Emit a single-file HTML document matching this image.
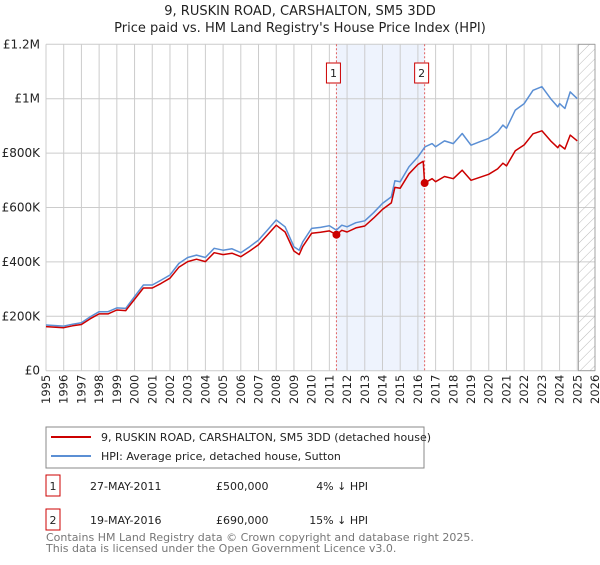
<!DOCTYPE html>
<html><head><meta charset="utf-8"><style>
body{margin:0;background:#fff;font-family:"Liberation Sans","DejaVu Sans",sans-serif;}
svg text{font-family:"DejaVu Sans","Liberation Sans",sans-serif;}
</style></head><body>
<svg id="chart" width="600" height="560" xmlns="http://www.w3.org/2000/svg">
<text x="300" y="15" text-anchor="middle" font-size="13" fill="#222">9, RUSKIN ROAD, CARSHALTON, SM5 3DD</text>
<text x="300" y="32" text-anchor="middle" font-size="13" fill="#222">Price paid vs. HM Land Registry's House Price Index (HPI)</text>
<g id="plot"></g>
<g>
<rect x="46" y="427" width="378" height="41" fill="#fff" stroke="#888"/>
<line x1="51" y1="437" x2="91" y2="437" stroke="#cc0000" stroke-width="2"/>
<text x="101" y="441" font-size="11" fill="#222">9, RUSKIN ROAD, CARSHALTON, SM5 3DD (detached house)</text>
<line x1="51" y1="456" x2="91" y2="456" stroke="#5b8fd4" stroke-width="2"/>
<text x="101" y="460" font-size="11" fill="#222">HPI: Average price, detached house, Sutton</text>
</g>
<g font-size="11" fill="#222">
<rect x="46" y="475" width="14" height="21" fill="#fff" stroke="#cc0000"/>
<text x="53" y="490" text-anchor="middle">1</text>
<text x="90" y="490">27-MAY-2011</text><text x="216" y="490">£500,000</text><text x="368" y="490" text-anchor="end">4% ↓ HPI</text>
<rect x="46" y="509" width="14" height="21" fill="#fff" stroke="#cc0000"/>
<text x="53" y="524" text-anchor="middle">2</text>
<text x="90" y="524">19-MAY-2016</text><text x="216" y="524">£690,000</text><text x="368" y="524" text-anchor="end">15% ↓ HPI</text>
</g>
<text x="46" y="541" font-size="11" fill="#777">Contains HM Land Registry data © Crown copyright and database right 2025.</text>
<text x="46" y="552" font-size="11" fill="#777">This data is licensed under the Open Government Licence v3.0.</text>
</svg>
<script>
const hpiYears=[1995,1996,1996.5,1997,1997.5,1998,1998.5,1999,1999.5,2000,2000.5,2001,2001.5,2002,2002.5,2003,2003.5,2004,2004.5,2005,2005.5,2006,2006.5,2007,2007.5,2008,2008.5,2009,2009.3,2009.5,2010,2010.5,2011,2011.4,2011.7,2012,2012.5,2013,2013.5,2014,2014.5,2014.7,2015,2015.5,2016,2016.4,2016.8,2017,2017.5,2018,2018.5,2019,2019.5,2020,2020.5,2020.8,2021,2021.5,2022,2022.5,2023,2023.5,2023.9,2024,2024.3,2024.6,2025];
const hpiValues=[168,164,171,176,198,217,217,231,229,272,315,315,333,352,394,416,425,416,450,443,448,434,456,480,517,554,529,456,443,474,523,527,533,517,535,529,544,551,581,615,639,698,695,750,786,823,835,823,845,835,872,829,842,854,878,903,891,958,982,1031,1044,1000,970,982,964,1025,1000];
const priceYears=[1995,1996,1996.5,1997,1997.5,1998,1998.5,1999,1999.5,2000,2000.5,2001,2001.5,2002,2002.5,2003,2003.5,2004,2004.5,2005,2005.5,2006,2006.5,2007,2007.5,2008,2008.5,2009,2009.3,2009.5,2010,2010.5,2011,2011.4,2011.7,2012,2012.5,2013,2013.5,2014,2014.5,2014.7,2015,2015.5,2016,2016.3,2016.38,2016.8,2017,2017.5,2018,2018.5,2019,2019.5,2020,2020.5,2020.8,2021,2021.5,2022,2022.5,2023,2023.5,2023.9,2024,2024.3,2024.6,2025];
const priceValues=[162,158,165,170,191,209,209,223,221,262,304,304,321,340,380,401,410,401,434,427,432,419,440,463,499,535,510,440,427,457,505,509,514,500,516,510,525,532,561,593,617,674,671,724,758,770,690,706,695,714,706,737,700,711,722,742,763,753,809,830,871,882,845,820,830,815,866,845];
const saleYears=[2011.4,2016.38];
const saleValues=[500,690];
const saleLabels=["1","2"];
const yTicks=[0,200,400,600,800,1000,1200];
const yTickLabels=["£0","£200K","£400K","£600K","£800K","£1M","£1.2M"];
const xStart=1995,xEnd=2026,projStart=2025.07;
const L=46,R=595,T=44.3,B=370.7;
const X=y=>L+(y-xStart)/(xEnd-xStart)*(R-L);
const Y=v=>B-v/1200*(B-T);
const NS="http://www.w3.org/2000/svg";
const g=document.getElementById('plot');
function mk(t,a,p){const e=document.createElementNS(NS,t);for(const k in a)e.setAttribute(k,a[k]);(p||g).appendChild(e);return e;}
const defs=mk('defs',{});
const pat=mk('pattern',{id:'hatch',width:7,height:7,patternUnits:'userSpaceOnUse',patternTransform:'rotate(45)'},defs);
mk('line',{x1:0,y1:0,x2:0,y2:7,stroke:'#bbb','stroke-width':1},pat);
mk('rect',{x:L,y:T,width:R-L,height:B-T,fill:'#fff'});
const band=mk('rect',{x:X(saleYears[0]),y:T,width:X(saleYears[1])-X(saleYears[0]),height:B-T,fill:'#eef3fd'});


for(let yr=xStart;yr<=xEnd;yr++){
  const l=mk('line',{x1:X(yr),y1:T,x2:X(yr),y2:B,stroke:'#cccccc','stroke-width':1});
  
  
  const t=mk('text',{x:0,y:0,'font-size':11.5,fill:'#222','text-anchor':'end',transform:`translate(${X(yr)+4},${B+4}) rotate(-90)`});
  
  
  t.textContent=yr;
}
yTicks.forEach((v,i)=>{
  const l=mk('line',{x1:L,y1:Y(v),x2:R,y2:Y(v),stroke:'#cccccc','stroke-width':1});
  
  
  const t=mk('text',{x:L-6,y:Y(v)+4,'font-size':12,fill:'#222','text-anchor':'end'});
  
  
  t.textContent=yTickLabels[i];
});
const hatch=mk('rect',{x:X(projStart),y:T,width:R-X(projStart),height:B-T,fill:'url(#hatch)',stroke:'#999','stroke-width':0.8});


saleYears.forEach((yr,i)=>{
  const l=mk('line',{x1:X(yr),y1:T,x2:X(yr),y2:B,stroke:'#e06060','stroke-width':1,'stroke-dasharray':'2,2'});
  
  
});
function path(xs,vs,color,name){
  const d=xs.map((x,i)=>(i?'L':'M')+X(x).toFixed(1)+','+Y(vs[i]).toFixed(1)).join('');
  const p=mk('path',{d,fill:'none',stroke:color,'stroke-width':1.5,'stroke-linejoin':'round'});
  
  
}
path(hpiYears,hpiValues,'#5b8fd4','hpi-line');
path(priceYears,priceValues,'#cc0000','price-line');
saleYears.forEach((yr,i)=>{
  const c=mk('circle',{cx:X(yr),cy:Y(saleValues[i]),r:4,fill:'#cc0000'});
  
  
  const b=mk('rect',{x:X(yr)-10,y:63,width:14,height:20,fill:'#fff',stroke:'#cc0000'});
  
  
  const t=mk('text',{x:X(yr)-3,y:77,'font-size':11,fill:'#222','text-anchor':'middle'});
  
  
  t.textContent=saleLabels[i];
});
</script>
</body></html>
